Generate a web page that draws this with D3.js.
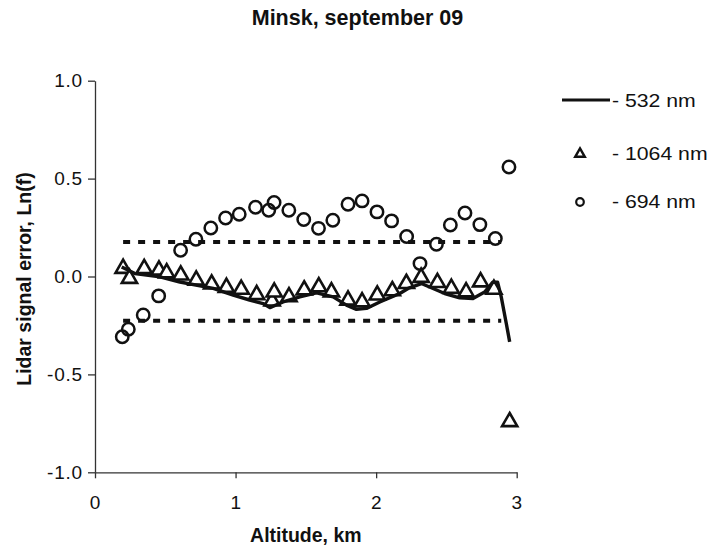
<!DOCTYPE html>
<html>
<head>
<meta charset="utf-8">
<script src="https://cdn.jsdelivr.net/npm/d3@7/dist/d3.min.js"></script>
<style>
  body { margin: 0; background: #fff; }
  svg { display: block; font-family: "Liberation Sans", Arial, Helvetica, sans-serif; }
</style>
</head>
<body>
<svg id="chart" width="712" height="549"></svg>
<script>
// ---- data ----
const titleText = "Minsk, september 09";
const xTitle = "Altitude, km";
const yTitle = "Lidar signal error, Ln(f)";
const xTicks = [0, 1, 2, 3];
const xTickLabels = ["0", "1", "2", "3"];
const yTicks = [-1, -0.5, 0, 0.5, 1];
const yTickLabels = ["-1.0", "-0.5", "0.0", "0.5", "1.0"];

// 532 nm (solid line)
const line532X = [0.19,0.284,0.462,0.604,0.841,0.983,1.10,1.196,1.244,1.338,1.457,1.576,1.694,1.789,1.86,1.931,2.026,2.11,2.168,2.227,2.322,2.488,2.594,2.689,2.772,2.83,2.864,2.89,2.926,2.95];
const line532Y = [0.049,0.015,-0.002,-0.028,-0.061,-0.095,-0.12,-0.138,-0.159,-0.13,-0.104,-0.084,-0.104,-0.146,-0.168,-0.163,-0.13,-0.104,-0.087,-0.061,-0.036,-0.087,-0.109,-0.112,-0.079,-0.029,-0.029,-0.104,-0.24,-0.334];

// 1064 nm (triangles)
const tri1064X = [0.20,0.245,0.35,0.455,0.51,0.61,0.72,0.83,0.935,1.04,1.15,1.26,1.275,1.38,1.488,1.592,1.682,1.80,1.90,2.008,2.115,2.215,2.32,2.436,2.535,2.64,2.743,2.838,2.95];
const tri1064Y = [0.041,-0.010,0.040,0.032,0.018,0.007,-0.019,-0.039,-0.056,-0.066,-0.093,-0.126,-0.080,-0.104,-0.069,-0.053,-0.079,-0.121,-0.130,-0.095,-0.073,-0.036,-0.005,-0.031,-0.061,-0.079,-0.028,-0.066,-0.742];

// 694 nm (circles)
const circ694X = [0.194,0.237,0.343,0.453,0.609,0.718,0.824,0.929,1.026,1.142,1.236,1.274,1.379,1.485,1.590,1.692,1.800,1.900,2.006,2.110,2.217,2.312,2.429,2.528,2.632,2.738,2.848,2.945];
const circ694Y = [-0.308,-0.269,-0.197,-0.099,0.134,0.190,0.248,0.299,0.318,0.354,0.338,0.378,0.338,0.291,0.246,0.287,0.369,0.386,0.330,0.284,0.204,0.066,0.165,0.263,0.324,0.265,0.194,0.559];

// dashed error bounds
const boundX = [0.2, 2.89];
const boundLevels = [0.176, -0.226];

const legendLabels = ["- 532 nm", "- 1064 nm", "- 694 nm"];

// ---- drawing ----
const svg = d3.select("#chart");
const x = d3.scaleLinear().domain([0, 3]).range([95, 516.7]);
const y = d3.scaleLinear().domain([-1, 1]).range([472.3, 80.7]);
const ink = "#111";
const axisCol = "#333";

// title
svg.append("text").attr("x", 357.5).attr("y", 25).attr("text-anchor", "middle")
  .attr("font-size", 21.5).attr("font-weight", "bold").attr("fill", ink).text(titleText);

// y axis
const yAxis = svg.append("g").attr("transform", `translate(${x(0)},0)`)
  .call(d3.axisLeft(y).tickValues(yTicks).tickSizeInner(7).tickSizeOuter(0).tickPadding(5)
    .tickFormat((d, i) => yTickLabels[i]));
// x axis
const xAxis = svg.append("g").attr("transform", `translate(0,${y(-1)})`)
  .call(d3.axisBottom(x).tickValues(xTicks).tickSizeInner(6).tickSizeOuter(0).tickPadding(17)
    .tickFormat((d, i) => xTickLabels[i]));
[yAxis, xAxis].forEach(g => {
  g.select(".domain").attr("stroke", axisCol).attr("stroke-width", 1.3);
  g.selectAll(".tick line").attr("stroke", axisCol).attr("stroke-width", 1.3);
  g.selectAll(".tick text").attr("font-size", 19).attr("fill", ink)
    .attr("font-family", "'Liberation Sans', Arial, sans-serif").attr("letter-spacing", 0.8);
});

// axis titles
svg.append("text").attr("x", x(1.5)).attr("y", 542).attr("text-anchor", "middle")
  .attr("font-size", 19.5).attr("font-weight", "bold").attr("fill", ink).text(xTitle);
svg.append("text").attr("transform", `translate(31,${279}) rotate(-90)`).attr("text-anchor", "middle")
  .attr("font-size", 19.5).attr("font-weight", "bold").attr("fill", ink).text(yTitle);

// dashed bounds
boundLevels.forEach(v => {
  svg.append("line").attr("x1", x(boundX[0])).attr("x2", x(boundX[1]))
    .attr("y1", y(v)).attr("y2", y(v))
    .attr("stroke", ink).attr("stroke-width", 4).attr("stroke-dasharray", "7,8");
});

// circles 694
const circData = circ694X.map((d, i) => ({ x: d, y: circ694Y[i] }));
svg.append("g").selectAll("circle").data(circData).join("circle")
  .attr("cx", d => x(d.x)).attr("cy", d => y(d.y)).attr("r", 6.2)
  .attr("fill", "none").attr("stroke", ink).attr("stroke-width", 2.5);

// triangles 1064
const triData = tri1064X.map((d, i) => ({ x: d, y: tri1064Y[i] }));
const triSym = d3.symbol().type(d3.symbolTriangle).size(100);
svg.append("g").selectAll("path").data(triData).join("path")
  .attr("d", triSym).attr("transform", d => `translate(${x(d.x)},${y(d.y)})`)
  .attr("fill", "#fff").attr("stroke", ink).attr("stroke-width", 2.6).attr("stroke-linejoin", "miter");

// line 532
const lineData = line532X.map((d, i) => ({ x: d, y: line532Y[i] }));
svg.append("path").datum(lineData)
  .attr("d", d3.line().x(d => x(d.x)).y(d => y(d.y)))
  .attr("fill", "none").attr("stroke", ink).attr("stroke-width", 3.4).attr("stroke-linejoin", "round");

// legend
const lg = svg.append("g");
lg.append("line").attr("x1", 562).attr("x2", 610).attr("y1", 100).attr("y2", 100)
  .attr("stroke", ink).attr("stroke-width", 3);
lg.append("path").attr("d", d3.symbol().type(d3.symbolTriangle).size(40))
  .attr("transform", "translate(580,154)").attr("fill", "#fff").attr("stroke", ink).attr("stroke-width", 2.4);
lg.append("circle").attr("cx", 580).attr("cy", 202).attr("r", 3.8)
  .attr("fill", "none").attr("stroke", ink).attr("stroke-width", 2.2);
const legY = [106.5, 160, 208];
legendLabels.forEach((t, i) => {
  lg.append("text").attr("transform", `translate(612,${legY[i]}) scale(1.18,1)`)
    .attr("font-size", 18).attr("fill", ink).text(t);
});
</script>
</body>
</html>
